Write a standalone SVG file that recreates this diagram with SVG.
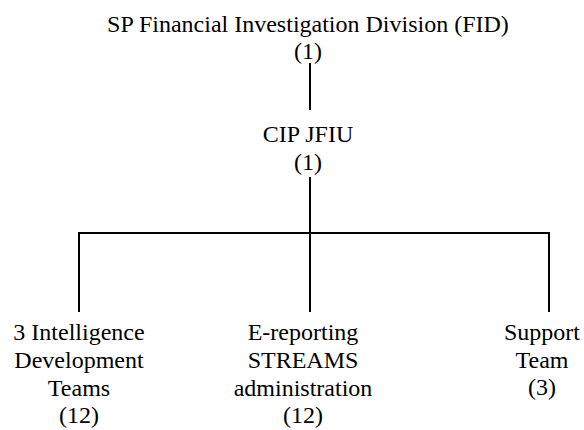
<svg xmlns="http://www.w3.org/2000/svg" width="584" height="430" viewBox="0 0 584 430">
<style>
.c{stroke:#000;stroke-width:2;fill:none}
</style>
<rect width="584" height="430" fill="#fff"/>
<g id="connectors">
<line class="c" x1="310" y1="63" x2="310" y2="110"/>
<line class="c" x1="310" y1="177" x2="310" y2="312"/>
<polyline class="c" points="79,312 79,233 549,233 549,312"/>
</g>
<g font-family="Liberation Serif, Times New Roman, DejaVu Serif, serif" font-size="24" fill="#000" text-anchor="middle">
<g id="fid">
<text x="308" y="32">SP Financial Investigation Division (FID)</text>
<text x="308" y="59">(1)</text>
</g>
<g id="jfiu">
<text x="308" y="142">CIP JFIU</text>
<text x="308" y="170">(1)</text>
</g>
<g id="intel">
<text x="79" y="340">3 Intelligence</text>
<text x="79" y="368">Development</text>
<text x="79" y="396">Teams</text>
<text x="79" y="423">(12)</text>
</g>
<g id="ereport">
<text x="303" y="340">E-reporting</text>
<text x="303" y="368">STREAMS</text>
<text x="303" y="396">administration</text>
<text x="303" y="423">(12)</text>
</g>
<g id="support">
<text x="542" y="340">Support</text>
<text x="542" y="368">Team</text>
<text x="542" y="395">(3)</text>
</g>
</g>
</svg>
